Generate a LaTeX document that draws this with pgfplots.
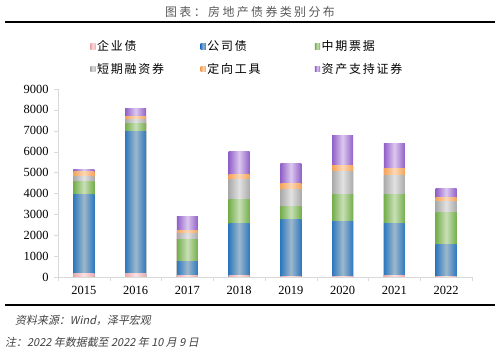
\documentclass[border=0pt]{standalone}
\usepackage{pgfplots}
\pgfplotsset{compat=1.18}
\usepackage{pgfplotstable}
\usepackage{fontspec}
\setmainfont{Liberation Serif}
\newfontfamily\cjk{Noto Sans CJK SC}
\newfontfamily\cjkit[FakeSlant=0.2]{Noto Sans CJK SC}
\definecolor{qyE}{HTML}{EBA9AC}\definecolor{qyC}{HTML}{FBE3E4}
\definecolor{gsE}{HTML}{2E78BE}\definecolor{gsC}{HTML}{9DB8CC}
\definecolor{zqE}{HTML}{74AE4C}\definecolor{zqC}{HTML}{C8DFB6}
\definecolor{drE}{HTML}{AAAAAA}\definecolor{drC}{HTML}{E2E2E2}
\definecolor{dxE}{HTML}{F5A35A}\definecolor{dxC}{HTML}{FBD8B6}
\definecolor{abE}{HTML}{9160C8}\definecolor{abC}{HTML}{DCC8EE}
\definecolor{axgray}{HTML}{D9D9D9}
\pgfplotstableread{
x qy gs zq dr dx ab
0 180 3750 640 240 240 110
1 190 6780 400 160 130 400
2 80 670 1040 290 160 680
3 50 2510 1130 960 240 1120
4 40 2720 610 830 260 990
5 30 2610 1290 1120 270 1460
6 80 2480 1370 930 320 1230
7 20 1550 1510 530 200 440
}\data
\newcommand\seg[4]{%
  \addplot[ybar, bar shift=0pt, bar width=21bp, draw=none, left color=#2, right color=#2, middle color=#3,
    forget plot, restrict x to domain=#1:#1] table[x=x, y expr={#4}]{\data};}
\begin{document}
\begin{tikzpicture}
\path[use as bounding box] (0bp,0bp) rectangle (500bp,353bp);
\node[font=\cjk\fontsize{12}{12}\selectfont\addfontfeatures{LetterSpace=20}, text=black!65] at (250bp,341bp) {图表：房地产债券类别分布};
\draw[line width=1.5bp] (5bp,331bp) -- (495bp,331bp);
\draw[line width=1.5bp] (5bp,48bp) -- (495bp,48bp);
\node[anchor=west, font=\cjkit\fontsize{11}{11}\selectfont, text=black!75, inner sep=0pt] at (15bp,33bp) {资料来源：Wind，泽平宏观};
\node[anchor=west, font=\cjkit\fontsize{11}{11}\selectfont, text=black!75, inner sep=0pt] at (5bp,11bp) {注：2022 年数据截至 2022 年 10 月 9 日};
\begin{axis}[
  at={(58bp,76bp)}, anchor=south west,
  width=414bp, height=188bp, scale only axis,
  xmin=-0.5, xmax=7.5, ymin=0, ymax=9000,
  ytick={0,1000,...,9000},
  xtick={0,...,7},
  xticklabels={2015,2016,2017,2018,2019,2020,2021,2022},
  minor xtick={-0.5,0.5,...,7.5},
  major x tick style={draw=none},
  minor x tick style={axgray},
  y tick style={axgray},
  tick align=outside, minor tick length=4bp, major tick length=4bp,
  axis x line*=bottom, axis y line*=left,
  axis line style={axgray},
  x axis line style={-}, y axis line style={-},
  ticklabel style={font=\fontsize{12.5}{12.5}\selectfont},
  /pgf/number format/assume math mode=true,
  /pgf/number format/set thousands separator={},
  yticklabel style={xshift=-2bp},
  xticklabel style={yshift=-2bp},
  legend columns=3,
  legend cell align=left,
  legend style={at={(axis description cs:0.078,1.266)}, anchor=north west, draw=none, fill=none,
    font=\cjk\fontsize{12}{12}\selectfont\addfontfeatures{LetterSpace=15},
    row sep=8bp, column sep=0pt, inner sep=0pt, nodes={inner sep=1.5bp}},
  legend image code/.code={\path[#1, draw=none] (0bp,-2.6bp) rectangle (5.2bp,2.6bp);},
]
\addlegendimage{left color=qyE, right color=qyE, middle color=qyC}
\addlegendentry{\makebox[102bp][l]{企业债}}
\addlegendimage{left color=gsE, right color=gsE, middle color=gsC}
\addlegendentry{\makebox[106bp][l]{公司债}}
\addlegendimage{left color=zqE, right color=zqE, middle color=zqC}
\addlegendentry{\makebox[85bp][l]{中期票据}}
\addlegendimage{left color=drE, right color=drE, middle color=drC}
\addlegendentry{\makebox[102bp][l]{短期融资券}}
\addlegendimage{left color=dxE, right color=dxE, middle color=dxC}
\addlegendentry{\makebox[106bp][l]{定向工具}}
\addlegendimage{left color=abE, right color=abE, middle color=abC}
\addlegendentry{\makebox[85bp][l]{资产支持证券}}
\pgfplotsinvokeforeach{0,...,7}{
  \seg{#1}{abE}{abC}{\thisrow{qy}+\thisrow{gs}+\thisrow{zq}+\thisrow{dr}+\thisrow{dx}+\thisrow{ab}}
  \seg{#1}{dxE}{dxC}{\thisrow{qy}+\thisrow{gs}+\thisrow{zq}+\thisrow{dr}+\thisrow{dx}}
  \seg{#1}{drE}{drC}{\thisrow{qy}+\thisrow{gs}+\thisrow{zq}+\thisrow{dr}}
  \seg{#1}{zqE}{zqC}{\thisrow{qy}+\thisrow{gs}+\thisrow{zq}}
  \seg{#1}{gsE}{gsC}{\thisrow{qy}+\thisrow{gs}}
  \seg{#1}{qyE}{qyC}{\thisrow{qy}}
}
\end{axis}
\end{tikzpicture}
\end{document}
